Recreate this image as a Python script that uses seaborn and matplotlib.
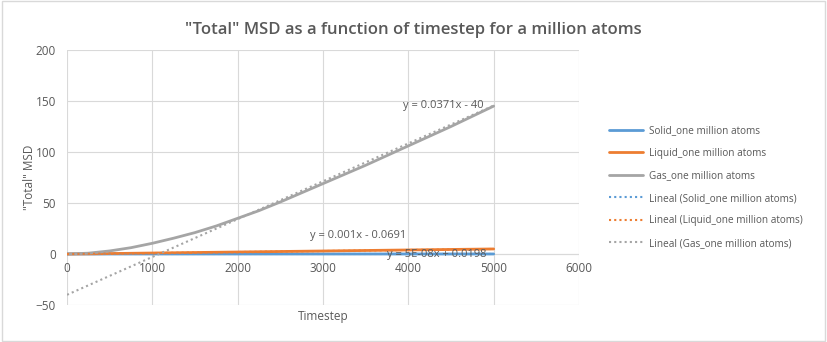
import numpy as np
import pandas as pd
import matplotlib
matplotlib.use("Agg")
import matplotlib.pyplot as plt
import seaborn as sns
from matplotlib.lines import Line2D

timestep = [0, 250, 500, 750, 1000, 1250, 1500, 1750, 2000, 2250, 2500, 2750, 3000,
            3250, 3500, 3750, 4000, 4250, 4500, 4750, 5000]
solid = [0.0, 0.02, 0.02, 0.02, 0.02, 0.02, 0.02, 0.02, 0.02, 0.02, 0.02, 0.02, 0.02,
         0.02, 0.02, 0.02, 0.02, 0.02, 0.02, 0.02, 0.02]
liquid = [0.0, 0.15, 0.4, 0.7, 0.95, 1.2, 1.45, 1.7, 1.95, 2.2, 2.45, 2.7, 2.95,
          3.2, 3.45, 3.7, 3.95, 4.2, 4.45, 4.7, 4.95]
gas = [0.0, 0.8, 3.0, 6.2, 10.5, 15.5, 21.0, 27.5, 35.0, 42.5, 51.0, 60.0, 69.0,
       78.0, 87.0, 96.5, 106.0, 115.5, 125.0, 135.0, 145.0]

series_names = ["Solid_one million atoms", "Liquid_one million atoms", "Gas_one million atoms"]
colors = ["#5b9bd5", "#ed7d31", "#a5a5a5"]
trend_coef = [(5e-08, 0.0198), (0.001, -0.0691), (0.0371, -40.0)]
trend_labels = ["y = 5E-08x + 0.0198", "y = 0.001x - 0.0691", "y = 0.0371x - 40"]

df = pd.DataFrame({"Timestep": timestep * 3,
                   "MSD": solid + liquid + gas,
                   "series": [series_names[0]] * len(timestep) + [series_names[1]] * len(timestep)
                   + [series_names[2]] * len(timestep)})

sns.set_theme(style="white")
plt.rcParams['font.family'] = ['Open Sans', 'DejaVu Sans']
txt = "#595959"

fig = plt.figure(figsize=(8.27, 3.42), dpi=100)
fig.patch.set_facecolor("white")
ax = fig.add_axes([67/827, 1 - 305/342, (579-67)/827, (305-50)/342])

sns.lineplot(data=df, x="Timestep", y="MSD", hue="series", palette=colors,
             hue_order=series_names, linewidth=2, ax=ax, legend=False)

xs = np.array([0, 5000])
for (m, b), c in zip(trend_coef, colors):
    sns.lineplot(x=xs, y=m * xs + b, color=c, linestyle=(0, (1, 1.5)), linewidth=1.5, ax=ax)

ax.set_xlim(0, 6000)
ax.set_ylim(-50, 200)
ax.set_xticks(range(0, 6001, 1000))
ax.set_yticks(range(-50, 201, 50))
ax.grid(True, axis="both", color="#d9d9d9", linewidth=0.8)
ax.set_axisbelow(True)
for s in ax.spines.values():
    s.set_visible(False)
ax.axhline(0, color="#d9d9d9", linewidth=0.8, zorder=0)
ax.tick_params(axis="both", colors=txt, labelsize=8.5, length=0)
ax.tick_params(axis="y", pad=8)
ax.set_xlabel("Timestep", color=txt, fontsize=8.5, labelpad=0)
ax.set_ylabel('"Total" MSD', color=txt, fontsize=8.5, labelpad=0)

ax.set_xticklabels([])
for t in range(0, 6001, 1000):
    ax.text(t, -8, str(t), ha="center", va="top", color=txt, fontsize=8.5)

ax.text(3940, 146, trend_labels[2], color=txt, fontsize=8, ha="left", va="center")
ax.text(2850, 18, trend_labels[1], color=txt, fontsize=8, ha="left", va="center")
ax.text(3750, -0.5, trend_labels[0], color=txt, fontsize=8, ha="left", va="center")

fig.suptitle('"Total" MSD as a function of timestep for a million atoms', x=0.5, y=0.935,
             color=txt, fontsize=12, fontweight="semibold")

handles = [Line2D([], [], color=c, lw=2) for c in colors] + \
          [Line2D([], [], color=c, lw=1.5, linestyle=(0, (1, 1.5))) for c in colors]
labels = series_names + ["Lineal (%s)" % n for n in series_names]
fig.legend(handles, labels, loc="center left", bbox_to_anchor=(600/827, 1 - 187/342),
           frameon=False, fontsize=7.2, labelcolor=txt, handlelength=3.4,
           handletextpad=0.6, labelspacing=1.15)

border = plt.Rectangle((0.002, 0.003), 0.996, 0.994, transform=fig.transFigure,
                       fill=False, edgecolor="#d9d9d9", linewidth=1)
fig.add_artist(border)

fig.savefig("out.png", dpi=100)
